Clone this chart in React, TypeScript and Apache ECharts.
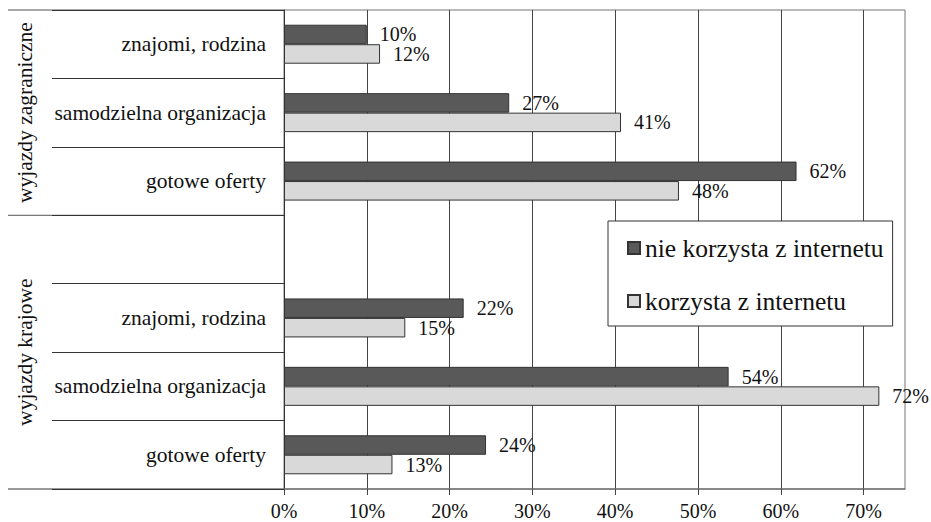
import React, { useEffect, useRef } from "react";
import * as echarts from "echarts";

const categories = [
  "znajomi, rodzina",
  "samodzielna organizacja",
  "gotowe oferty",
  "",
  "znajomi, rodzina",
  "samodzielna organizacja",
  "gotowe oferty",
];
const groupNames = ["wyjazdy zagraniczne", "wyjazdy krajowe"];
const groupSizes = [3, 4];
const seriesNames = ["nie korzysta z internetu", "korzysta z internetu"];
const nieKorzysta = [10.0, 27.2, 61.9, null, 21.7, 53.7, 24.4];
const korzysta = [11.6, 40.7, 47.7, null, 14.65, 71.9, 13.1];
const xTickValues = [0, 10, 20, 30, 40, 50, 60, 70];
const xMin = 0;
const xMax = 75;
const xStep = 10;

const FONT = "Liberation Serif";

export default function App() {
  const ref = useRef<HTMLDivElement>(null);
  useEffect(() => {
    if (!ref.current) return;
    const chart = echarts.init(ref.current, undefined, { renderer: "svg" });
    const label = {
      show: true,
      position: "right",
      distance: 13,
      fontFamily: FONT,
      fontSize: 20,
      color: "#111",
      formatter: (p: any) =>
        p.value === null || p.value === undefined || p.value === "-" ? "" : Math.round(p.value) + "%",
    };
    chart.setOption({
      animation: false,
      backgroundColor: "#fff",
      textStyle: { fontFamily: FONT },
      grid: {
        left: 284,
        right: 26,
        top: 10,
        bottom: 33,
        show: true,
        borderColor: "#777",
        borderWidth: 1,
      },
      legend: {
        orient: "vertical",
        left: 608,
        top: 221,
        padding: [14, 9, 12, 19],
        itemGap: 27,
        itemWidth: 12,
        itemHeight: 12,
        icon: "rect",
        backgroundColor: "#fff",
        borderColor: "#333",
        borderWidth: 1,
        textStyle: { fontFamily: FONT, fontSize: 25.5, color: "#111" },
        data: seriesNames,
      },
      xAxis: {
        type: "value",
        min: xMin,
        max: xMax,
        interval: xStep,
        axisLine: { show: true, lineStyle: { color: "#777", width: 1.5 } },
        axisTick: { show: true, length: 6, customValues: xTickValues, lineStyle: { color: "#444" } },
        splitLine: { show: true, lineStyle: { color: "#444", width: 1 } },
        axisLabel: {
          fontFamily: FONT,
          fontSize: 20,
          color: "#111",
          margin: 12,
          formatter: (v: number) => (v % xStep === 0 ? v + "%" : ""),
        },
      },
      yAxis: {
        type: "category",
        inverse: true,
        data: categories,
        axisLine: { show: true, lineStyle: { color: "#333" } },
        axisTick: { show: true, length: 232, lineStyle: { color: "#333" } },
        splitLine: { show: false },
        axisLabel: {
          fontFamily: FONT,
          fontSize: 21.5,
          color: "#111",
          margin: 18,
        },
      },
      series: [
        {
          name: seriesNames[0],
          type: "bar",
          data: nieKorzysta,
          barGap: "0%",
          barCategoryGap: "43%",
          itemStyle: { color: "#595959", borderColor: "#333", borderWidth: 1 },
          label,
        },
        {
          name: seriesNames[1],
          type: "bar",
          data: korzysta,
          barGap: "0%",
          barCategoryGap: "43%",
          itemStyle: { color: "#d9d9d9", borderColor: "#333", borderWidth: 1 },
          label,
        },
      ],
    });

    const c0 = chart.convertToPixel({ yAxisIndex: 0 }, 0) as number;
    const c1 = chart.convertToPixel({ yAxisIndex: 0 }, 1) as number;
    const band = c1 - c0;
    const boundary = (i: number) => c0 - band / 2 + i * band;
    const axisX = chart.convertToPixel({ xAxisIndex: 0 }, xMin) as number;
    const graphics: any[] = [];
    let start = 0;
    groupSizes.forEach((size, gi) => {
      const yS = boundary(start);
      const yE = boundary(start + size);
      graphics.push({
        type: "line",
        shape: { x1: 8, y1: yS, x2: axisX, y2: yS },
        style: { stroke: "#555", lineWidth: 1 },
        silent: true,
      });
      if (gi === groupSizes.length - 1) {
        graphics.push({
          type: "line",
          shape: { x1: 8, y1: yE, x2: axisX, y2: yE },
          style: { stroke: "#777", lineWidth: 1.5 },
          silent: true,
        });
      }
      graphics.push({
        type: "text",
        x: 25,
        y: (yS + yE) / 2,
        rotation: Math.PI / 2,
        style: {
          text: groupNames[gi],
          fontFamily: FONT,
          fontSize: 21.5,
          fill: "#111",
          align: "center",
          verticalAlign: "middle",
        },
        silent: true,
      });
      start += size;
    });
    chart.setOption({ graphic: graphics });

    return () => chart.dispose();
  }, []);
  return (
    <div
      ref={ref}
      style={{ position: "fixed", left: 0, top: 0, width: 931, height: 522 }}
    />
  );
}
